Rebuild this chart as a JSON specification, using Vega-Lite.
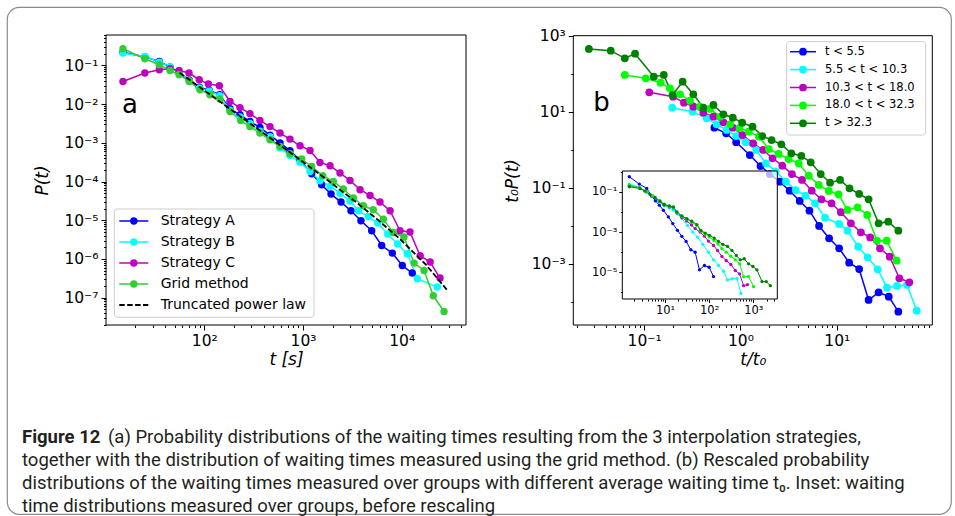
{
  "$schema": "https://vega.github.io/schema/vega-lite/v6.json",
  "width": 944,
  "height": 507,
  "autosize": {"type": "none"},
  "padding": {"left": 7, "top": 7, "right": 4, "bottom": 2},
  "background": "white",
  "config": {
    "view": {"stroke": "#8c8c8c", "strokeWidth": 1.2, "cornerRadius": 12},
    "font": "DejaVu Sans",
    "axis": {"grid": false}
  },
  "datasets": {
    "A": [
      {"series": "Strategy A", "t": 15, "P": 0.219}, {"series": "Strategy A", "t": 25, "P": 0.166}, {"series": "Strategy A", "t": 35, "P": 0.126}, {"series": "Strategy A", "t": 45, "P": 0.0912}, {"series": "Strategy A", "t": 55.5, "P": 0.0646}, {"series": "Strategy A", "t": 70.5, "P": 0.0417}, {"series": "Strategy A", "t": 89.1, "P": 0.0275}, {"series": "Strategy A", "t": 112, "P": 0.0229}, {"series": "Strategy A", "t": 143, "P": 0.0174}, {"series": "Strategy A", "t": 182, "P": 0.00759}, {"series": "Strategy A", "t": 230, "P": 0.00537}, {"series": "Strategy A", "t": 290, "P": 0.00355}, {"series": "Strategy A", "t": 366, "P": 0.00251}, {"series": "Strategy A", "t": 463, "P": 0.00158}, {"series": "Strategy A", "t": 585, "P": 0.001}, {"series": "Strategy A", "t": 738, "P": 0.000631}, {"series": "Strategy A", "t": 933, "P": 0.000355}, {"series": "Strategy A", "t": 1225, "P": 0.000159}, {"series": "Strategy A", "t": 1545, "P": 8.26e-5}, {"series": "Strategy A", "t": 1923, "P": 4.75e-5}, {"series": "Strategy A", "t": 2427, "P": 2.95e-5}, {"series": "Strategy A", "t": 3062, "P": 1.76e-5}, {"series": "Strategy A", "t": 3864, "P": 9.7e-6}, {"series": "Strategy A", "t": 4966, "P": 5.36e-6}, {"series": "Strategy A", "t": 6266, "P": 2.23e-6}, {"series": "Strategy A", "t": 8035, "P": 1.42e-6}, {"series": "Strategy A", "t": 10140, "P": 6.79e-7}, {"series": "Strategy A", "t": 12790, "P": 4.33e-7},
      {"series": "Strategy B", "t": 15, "P": 0.209}, {"series": "Strategy B", "t": 25, "P": 0.171}, {"series": "Strategy B", "t": 35, "P": 0.122}, {"series": "Strategy B", "t": 45, "P": 0.0933}, {"series": "Strategy B", "t": 55.5, "P": 0.0646}, {"series": "Strategy B", "t": 70.5, "P": 0.0398}, {"series": "Strategy B", "t": 89.1, "P": 0.0263}, {"series": "Strategy B", "t": 112, "P": 0.0219}, {"series": "Strategy B", "t": 143, "P": 0.0166}, {"series": "Strategy B", "t": 182, "P": 0.00692}, {"series": "Strategy B", "t": 230, "P": 0.00468}, {"series": "Strategy B", "t": 290, "P": 0.00316}, {"series": "Strategy B", "t": 366, "P": 0.002}, {"series": "Strategy B", "t": 463, "P": 0.00145}, {"series": "Strategy B", "t": 585, "P": 0.000741}, {"series": "Strategy B", "t": 738, "P": 0.000468}, {"series": "Strategy B", "t": 933, "P": 0.000316}, {"series": "Strategy B", "t": 1178, "P": 0.000182}, {"series": "Strategy B", "t": 1486, "P": 0.000105}, {"series": "Strategy B", "t": 1879, "P": 7.59e-5}, {"series": "Strategy B", "t": 2371, "P": 5.01e-5}, {"series": "Strategy B", "t": 2992, "P": 3.16e-5}, {"series": "Strategy B", "t": 3639, "P": 1.76e-5}, {"series": "Strategy B", "t": 4592, "P": 1.25e-5}, {"series": "Strategy B", "t": 5715, "P": 8.47e-6}, {"series": "Strategy B", "t": 7211, "P": 4.4e-6}, {"series": "Strategy B", "t": 9099, "P": 2.43e-6}, {"series": "Strategy B", "t": 11400, "P": 1.36e-6}, {"series": "Strategy B", "t": 14390, "P": 3.08e-7}, {"series": "Strategy B", "t": 22960, "P": 1.88e-7},
      {"series": "Strategy C", "t": 15, "P": 0.0386}, {"series": "Strategy C", "t": 25, "P": 0.0637}, {"series": "Strategy C", "t": 35, "P": 0.0774}, {"series": "Strategy C", "t": 45, "P": 0.0822}, {"series": "Strategy C", "t": 55.5, "P": 0.0743}, {"series": "Strategy C", "t": 70, "P": 0.0637}, {"series": "Strategy C", "t": 88.9, "P": 0.0427}, {"series": "Strategy C", "t": 110, "P": 0.033}, {"series": "Strategy C", "t": 142, "P": 0.0299}, {"series": "Strategy C", "t": 182, "P": 0.01175}, {"series": "Strategy C", "t": 230, "P": 0.00813}, {"series": "Strategy C", "t": 290, "P": 0.00569}, {"series": "Strategy C", "t": 366, "P": 0.0038}, {"series": "Strategy C", "t": 463, "P": 0.00263}, {"series": "Strategy C", "t": 585, "P": 0.00179}, {"series": "Strategy C", "t": 738, "P": 0.00125}, {"series": "Strategy C", "t": 933, "P": 0.000841}, {"series": "Strategy C", "t": 1178, "P": 0.000637}, {"series": "Strategy C", "t": 1486, "P": 0.000312}, {"series": "Strategy C", "t": 1879, "P": 0.000256}, {"series": "Strategy C", "t": 2371, "P": 0.000166}, {"series": "Strategy C", "t": 2992, "P": 0.000107}, {"series": "Strategy C", "t": 3784, "P": 6.14e-5}, {"series": "Strategy C", "t": 4775, "P": 4.38e-5}, {"series": "Strategy C", "t": 6026, "P": 2.95e-5}, {"series": "Strategy C", "t": 7621, "P": 1.76e-5}, {"series": "Strategy C", "t": 9616, "P": 5.36e-6}, {"series": "Strategy C", "t": 12130, "P": 4.96e-6}, {"series": "Strategy C", "t": 15380, "P": 1.21e-6}, {"series": "Strategy C", "t": 19410, "P": 8.32e-7}, {"series": "Strategy C", "t": 24430, "P": 3.21e-7},
      {"series": "Grid method", "t": 15, "P": 0.27}, {"series": "Grid method", "t": 25, "P": 0.149}, {"series": "Grid method", "t": 35, "P": 0.104}, {"series": "Grid method", "t": 45, "P": 0.0743}, {"series": "Grid method", "t": 55.5, "P": 0.0575}, {"series": "Grid method", "t": 70.5, "P": 0.0386}, {"series": "Grid method", "t": 90.4, "P": 0.0236}, {"series": "Grid method", "t": 114, "P": 0.0175}, {"series": "Grid method", "t": 144, "P": 0.01355}, {"series": "Grid method", "t": 182, "P": 0.00647}, {"series": "Grid method", "t": 234, "P": 0.00379}, {"series": "Grid method", "t": 290, "P": 0.00265}, {"series": "Grid method", "t": 366, "P": 0.00179}, {"series": "Grid method", "t": 463, "P": 0.0012}, {"series": "Grid method", "t": 585, "P": 0.000807}, {"series": "Grid method", "t": 738, "P": 0.000522}, {"series": "Grid method", "t": 971, "P": 0.000381}, {"series": "Grid method", "t": 1225, "P": 0.000245}, {"series": "Grid method", "t": 1585, "P": 0.000141}, {"series": "Grid method", "t": 2028, "P": 0.000101}, {"series": "Grid method", "t": 2559, "P": 6.4e-5}, {"series": "Grid method", "t": 3236, "P": 3.75e-5}, {"series": "Grid method", "t": 4083, "P": 2.37e-5}, {"series": "Grid method", "t": 5152, "P": 1.87e-5}, {"series": "Grid method", "t": 6516, "P": 1.07e-5}, {"series": "Grid method", "t": 8222, "P": 4.84e-6}, {"series": "Grid method", "t": 10540, "P": 3.68e-6}, {"series": "Grid method", "t": 13340, "P": 7.83e-7}, {"series": "Grid method", "t": 16830, "P": 5.05e-7}, {"series": "Grid method", "t": 20890, "P": 1.12e-7}, {"series": "Grid method", "t": 26850, "P": 4.4e-8}
    ],
    "fit": [
      {"t": 56.2, "P": 0.0647}, {"t": 100, "P": 0.0226}, {"t": 177.8, "P": 0.00785}, {"t": 316.2, "P": 0.00273}, {"t": 562.3, "P": 0.000942}, {"t": 1000, "P": 0.000321}, {"t": 1778, "P": 0.000108}, {"t": 3162, "P": 3.5e-5}, {"t": 5623, "P": 1.07e-5}, {"t": 10000, "P": 2.98e-6}, {"t": 17783, "P": 6.9e-7}, {"t": 29512, "P": 1.47e-7}
    ],
    "B": [
      {"group": "t < 5.5", "x": 0.536, "y": 3.86}, {"group": "t < 5.5", "x": 0.71, "y": 2.75}, {"group": "t < 5.5", "x": 0.902, "y": 1.6}, {"group": "t < 5.5", "x": 1.25, "y": 0.738}, {"group": "t < 5.5", "x": 1.614, "y": 0.379}, {"group": "t < 5.5", "x": 2.018, "y": 0.233}, {"group": "t < 5.5", "x": 2.547, "y": 0.147}, {"group": "t < 5.5", "x": 3.236, "y": 0.0849}, {"group": "t < 5.5", "x": 4.121, "y": 0.0455}, {"group": "t < 5.5", "x": 5.2, "y": 0.0253}, {"group": "t < 5.5", "x": 6.546, "y": 0.01}, {"group": "t < 5.5", "x": 8.318, "y": 0.00474}, {"group": "t < 5.5", "x": 10.57, "y": 0.00259}, {"group": "t < 5.5", "x": 13.43, "y": 0.00108}, {"group": "t < 5.5", "x": 17.06, "y": 0.000738}, {"group": "t < 5.5", "x": 21.38, "y": 0.000113}, {"group": "t < 5.5", "x": 27.16, "y": 0.00018}, {"group": "t < 5.5", "x": 34.59, "y": 0.000138}, {"group": "t < 5.5", "x": 43.55, "y": 5.56e-5},
      {"group": "5.5 < t < 10.3", "x": 0.196, "y": 13.0}, {"group": "5.5 < t < 10.3", "x": 0.318, "y": 10.2}, {"group": "5.5 < t < 10.3", "x": 0.446, "y": 6.82}, {"group": "5.5 < t < 10.3", "x": 0.566, "y": 4.74}, {"group": "5.5 < t < 10.3", "x": 0.719, "y": 3.36}, {"group": "5.5 < t < 10.3", "x": 0.902, "y": 2.33}, {"group": "5.5 < t < 10.3", "x": 1.127, "y": 1.6}, {"group": "5.5 < t < 10.3", "x": 1.455, "y": 1.0}, {"group": "5.5 < t < 10.3", "x": 1.837, "y": 0.447}, {"group": "5.5 < t < 10.3", "x": 2.317, "y": 0.275}, {"group": "5.5 < t < 10.3", "x": 2.965, "y": 0.147}, {"group": "5.5 < t < 10.3", "x": 3.741, "y": 0.0885}, {"group": "5.5 < t < 10.3", "x": 4.721, "y": 0.0627}, {"group": "5.5 < t < 10.3", "x": 5.943, "y": 0.0395}, {"group": "5.5 < t < 10.3", "x": 7.551, "y": 0.0165}, {"group": "5.5 < t < 10.3", "x": 10.57, "y": 0.0113}, {"group": "5.5 < t < 10.3", "x": 12.91, "y": 0.00752}, {"group": "5.5 < t < 10.3", "x": 16.67, "y": 0.00285}, {"group": "5.5 < t < 10.3", "x": 20.89, "y": 0.0015}, {"group": "5.5 < t < 10.3", "x": 26.55, "y": 0.000726}, {"group": "5.5 < t < 10.3", "x": 33.19, "y": 0.000238}, {"group": "5.5 < t < 10.3", "x": 42.17, "y": 0.000264}, {"group": "5.5 < t < 10.3", "x": 53.58, "y": 0.00028}, {"group": "5.5 < t < 10.3", "x": 67.61, "y": 5.9e-5},
      {"group": "10.3 < t < 18.0", "x": 0.113, "y": 33.0}, {"group": "10.3 < t < 18.0", "x": 0.2, "y": 25.3}, {"group": "10.3 < t < 18.0", "x": 0.259, "y": 17.6}, {"group": "10.3 < t < 18.0", "x": 0.324, "y": 13.8}, {"group": "10.3 < t < 18.0", "x": 0.412, "y": 9.59}, {"group": "10.3 < t < 18.0", "x": 0.524, "y": 7.52}, {"group": "10.3 < t < 18.0", "x": 0.665, "y": 5.36}, {"group": "10.3 < t < 18.0", "x": 0.832, "y": 3.86}, {"group": "10.3 < t < 18.0", "x": 1.05, "y": 2.48}, {"group": "10.3 < t < 18.0", "x": 1.355, "y": 1.5}, {"group": "10.3 < t < 18.0", "x": 1.722, "y": 1.0}, {"group": "10.3 < t < 18.0", "x": 2.153, "y": 0.605}, {"group": "10.3 < t < 18.0", "x": 2.716, "y": 0.386}, {"group": "10.3 < t < 18.0", "x": 3.42, "y": 0.233}, {"group": "10.3 < t < 18.0", "x": 4.355, "y": 0.163}, {"group": "10.3 < t < 18.0", "x": 5.495, "y": 0.0849}, {"group": "10.3 < t < 18.0", "x": 6.934, "y": 0.0505}, {"group": "10.3 < t < 18.0", "x": 8.81, "y": 0.0395}, {"group": "10.3 < t < 18.0", "x": 11.02, "y": 0.023}, {"group": "10.3 < t < 18.0", "x": 14.0, "y": 0.01178}, {"group": "10.3 < t < 18.0", "x": 17.78, "y": 0.00682}, {"group": "10.3 < t < 18.0", "x": 22.23, "y": 0.00501}, {"group": "10.3 < t < 18.0", "x": 28.05, "y": 0.00259}, {"group": "10.3 < t < 18.0", "x": 35.4, "y": 0.00156}, {"group": "10.3 < t < 18.0", "x": 44.57, "y": 0.000421}, {"group": "10.3 < t < 18.0", "x": 56.62, "y": 0.00033},
      {"group": "18.0 < t < 32.3", "x": 0.063, "y": 94.2}, {"group": "18.0 < t < 32.3", "x": 0.104, "y": 77.1}, {"group": "18.0 < t < 32.3", "x": 0.148, "y": 59.0}, {"group": "18.0 < t < 32.3", "x": 0.185, "y": 42.1}, {"group": "18.0 < t < 32.3", "x": 0.236, "y": 29.2}, {"group": "18.0 < t < 32.3", "x": 0.299, "y": 19.8}, {"group": "18.0 < t < 32.3", "x": 0.38, "y": 13.8}, {"group": "18.0 < t < 32.3", "x": 0.483, "y": 12.0}, {"group": "18.0 < t < 32.3", "x": 0.615, "y": 7.52}, {"group": "18.0 < t < 32.3", "x": 0.782, "y": 4.74}, {"group": "18.0 < t < 32.3", "x": 0.977, "y": 3.8}, {"group": "18.0 < t < 32.3", "x": 1.222, "y": 3.03}, {"group": "18.0 < t < 32.3", "x": 1.552, "y": 2.24}, {"group": "18.0 < t < 32.3", "x": 1.972, "y": 1.06}, {"group": "18.0 < t < 32.3", "x": 2.489, "y": 0.785}, {"group": "18.0 < t < 32.3", "x": 3.162, "y": 0.579}, {"group": "18.0 < t < 32.3", "x": 4.018, "y": 0.447}, {"group": "18.0 < t < 32.3", "x": 5.105, "y": 0.211}, {"group": "18.0 < t < 32.3", "x": 6.501, "y": 0.12}, {"group": "18.0 < t < 32.3", "x": 8.26, "y": 0.0834}, {"group": "18.0 < t < 32.3", "x": 10.42, "y": 0.0682}, {"group": "18.0 < t < 32.3", "x": 12.91, "y": 0.0264}, {"group": "18.0 < t < 32.3", "x": 16.41, "y": 0.031}, {"group": "18.0 < t < 32.3", "x": 20.7, "y": 0.0195}, {"group": "18.0 < t < 32.3", "x": 26.12, "y": 0.0041}, {"group": "18.0 < t < 32.3", "x": 32.96, "y": 0.0041}, {"group": "18.0 < t < 32.3", "x": 41.88, "y": 0.00122},
      {"group": "t > 32.3", "x": 0.0267, "y": 455}, {"group": "t > 32.3", "x": 0.045, "y": 410}, {"group": "t > 32.3", "x": 0.063, "y": 259}, {"group": "t > 32.3", "x": 0.0805, "y": 342}, {"group": "t > 32.3", "x": 0.126, "y": 84.9}, {"group": "t > 32.3", "x": 0.16, "y": 94.2}, {"group": "t > 32.3", "x": 0.197, "y": 28.0}, {"group": "t > 32.3", "x": 0.251, "y": 62.7}, {"group": "t > 32.3", "x": 0.324, "y": 29.2}, {"group": "t > 32.3", "x": 0.412, "y": 13.0}, {"group": "t > 32.3", "x": 0.524, "y": 15.3}, {"group": "t > 32.3", "x": 0.665, "y": 8.69}, {"group": "t > 32.3", "x": 0.832, "y": 7.08}, {"group": "t > 32.3", "x": 1.042, "y": 5.22}, {"group": "t > 32.3", "x": 1.334, "y": 4.1}, {"group": "t > 32.3", "x": 1.683, "y": 2.33}, {"group": "t > 32.3", "x": 2.104, "y": 1.83}, {"group": "t > 32.3", "x": 2.655, "y": 1.41}, {"group": "t > 32.3", "x": 3.373, "y": 0.818}, {"group": "t > 32.3", "x": 4.285, "y": 0.695}, {"group": "t > 32.3", "x": 5.358, "y": 0.474}, {"group": "t > 32.3", "x": 6.808, "y": 0.233}, {"group": "t > 32.3", "x": 8.511, "y": 0.138}, {"group": "t > 32.3", "x": 10.81, "y": 0.163}, {"group": "t > 32.3", "x": 13.55, "y": 0.0982}, {"group": "t > 32.3", "x": 17.06, "y": 0.0695}, {"group": "t > 32.3", "x": 21.38, "y": 0.0505}, {"group": "t > 32.3", "x": 27.16, "y": 0.01178}, {"group": "t > 32.3", "x": 34.2, "y": 0.013}, {"group": "t > 32.3", "x": 43.55, "y": 0.00752}
    ],
    "inset": [
      {"group": "t < 5.5", "t": 1.545, "P": 0.562}, {"group": "t < 5.5", "t": 2.606, "P": 0.243}, {"group": "t < 5.5", "t": 3.837, "P": 0.148}, {"group": "t < 5.5", "t": 4.989, "P": 0.061}, {"group": "t < 5.5", "t": 6.03, "P": 0.0355}, {"group": "t < 5.5", "t": 7.413, "P": 0.0216}, {"group": "t < 5.5", "t": 9.141, "P": 0.01216}, {"group": "t < 5.5", "t": 11.89, "P": 0.00562}, {"group": "t < 5.5", "t": 14.96, "P": 0.00263}, {"group": "t < 5.5", "t": 19.05, "P": 0.00122}, {"group": "t < 5.5", "t": 23.99, "P": 0.00061}, {"group": "t < 5.5", "t": 29.99, "P": 0.000343}, {"group": "t < 5.5", "t": 38.37, "P": 0.000132}, {"group": "t < 5.5", "t": 48.08, "P": 0.0001}, {"group": "t < 5.5", "t": 60.26, "P": 1.32e-5}, {"group": "t < 5.5", "t": 78.16, "P": 2.16e-5}, {"group": "t < 5.5", "t": 100, "P": 1.78e-5}, {"group": "t < 5.5", "t": 125.3, "P": 6.1e-6},
      {"group": "5.5 < t < 10.3", "t": 1.545, "P": 0.243}, {"group": "5.5 < t < 10.3", "t": 2.606, "P": 0.166}, {"group": "5.5 < t < 10.3", "t": 3.837, "P": 0.0955}, {"group": "5.5 < t < 10.3", "t": 5.248, "P": 0.0562}, {"group": "5.5 < t < 10.3", "t": 7.413, "P": 0.0302}, {"group": "5.5 < t < 10.3", "t": 9.55, "P": 0.02}, {"group": "5.5 < t < 10.3", "t": 12.59, "P": 0.0158}, {"group": "5.5 < t < 10.3", "t": 15.49, "P": 0.012}, {"group": "5.5 < t < 10.3", "t": 19.05, "P": 0.00794}, {"group": "5.5 < t < 10.3", "t": 23.99, "P": 0.00468}, {"group": "5.5 < t < 10.3", "t": 32.14, "P": 0.00216}, {"group": "5.5 < t < 10.3", "t": 42.66, "P": 0.001}, {"group": "5.5 < t < 10.3", "t": 54.2, "P": 0.000562}, {"group": "5.5 < t < 10.3", "t": 71.94, "P": 0.000243}, {"group": "5.5 < t < 10.3", "t": 96.38, "P": 0.0001}, {"group": "5.5 < t < 10.3", "t": 125.3, "P": 4.17e-5}, {"group": "5.5 < t < 10.3", "t": 162.6, "P": 2.16e-5}, {"group": "5.5 < t < 10.3", "t": 211.3, "P": 1.12e-5}, {"group": "5.5 < t < 10.3", "t": 260.6, "P": 4.17e-6}, {"group": "5.5 < t < 10.3", "t": 328.1, "P": 4.68e-6}, {"group": "5.5 < t < 10.3", "t": 426.6, "P": 5.01e-6}, {"group": "5.5 < t < 10.3", "t": 524.8, "P": 8.91e-7},
      {"group": "10.3 < t < 18.0", "t": 1.545, "P": 0.209}, {"group": "10.3 < t < 18.0", "t": 2.606, "P": 0.158}, {"group": "10.3 < t < 18.0", "t": 3.837, "P": 0.1}, {"group": "10.3 < t < 18.0", "t": 5.248, "P": 0.0603}, {"group": "10.3 < t < 18.0", "t": 7.413, "P": 0.0339}, {"group": "10.3 < t < 18.0", "t": 9.55, "P": 0.0224}, {"group": "10.3 < t < 18.0", "t": 12.59, "P": 0.0178}, {"group": "10.3 < t < 18.0", "t": 15.49, "P": 0.0158}, {"group": "10.3 < t < 18.0", "t": 18.62, "P": 0.00891}, {"group": "10.3 < t < 18.0", "t": 23.99, "P": 0.00537}, {"group": "10.3 < t < 18.0", "t": 30.9, "P": 0.00355}, {"group": "10.3 < t < 18.0", "t": 39.81, "P": 0.00224}, {"group": "10.3 < t < 18.0", "t": 48.08, "P": 0.00148}, {"group": "10.3 < t < 18.0", "t": 62.37, "P": 0.001}, {"group": "10.3 < t < 18.0", "t": 77.62, "P": 0.000631}, {"group": "10.3 < t < 18.0", "t": 96.38, "P": 0.000355}, {"group": "10.3 < t < 18.0", "t": 125.3, "P": 0.000216}, {"group": "10.3 < t < 18.0", "t": 154.5, "P": 0.000122}, {"group": "10.3 < t < 18.0", "t": 194.5, "P": 6.1e-5}, {"group": "10.3 < t < 18.0", "t": 243.2, "P": 3.85e-5}, {"group": "10.3 < t < 18.0", "t": 311.2, "P": 2.43e-5}, {"group": "10.3 < t < 18.0", "t": 390, "P": 1.22e-5}, {"group": "10.3 < t < 18.0", "t": 488.7, "P": 8.32e-6}, {"group": "10.3 < t < 18.0", "t": 602.6, "P": 2.16e-6}, {"group": "10.3 < t < 18.0", "t": 741.3, "P": 2.43e-6},
      {"group": "18.0 < t < 32.3", "t": 1.545, "P": 0.209}, {"group": "18.0 < t < 32.3", "t": 2.606, "P": 0.158}, {"group": "18.0 < t < 32.3", "t": 3.837, "P": 0.105}, {"group": "18.0 < t < 32.3", "t": 5.248, "P": 0.0631}, {"group": "18.0 < t < 32.3", "t": 7.413, "P": 0.0355}, {"group": "18.0 < t < 32.3", "t": 9.55, "P": 0.024}, {"group": "18.0 < t < 32.3", "t": 12.59, "P": 0.0191}, {"group": "18.0 < t < 32.3", "t": 15.49, "P": 0.0166}, {"group": "18.0 < t < 32.3", "t": 18.62, "P": 0.00955}, {"group": "18.0 < t < 32.3", "t": 23.99, "P": 0.00603}, {"group": "18.0 < t < 32.3", "t": 30.9, "P": 0.00437}, {"group": "18.0 < t < 32.3", "t": 39.81, "P": 0.00316}, {"group": "18.0 < t < 32.3", "t": 52.48, "P": 0.00209}, {"group": "18.0 < t < 32.3", "t": 64.57, "P": 0.00112}, {"group": "18.0 < t < 32.3", "t": 81.28, "P": 0.000794}, {"group": "18.0 < t < 32.3", "t": 100, "P": 0.000562}, {"group": "18.0 < t < 32.3", "t": 128.8, "P": 0.00038}, {"group": "18.0 < t < 32.3", "t": 158.5, "P": 0.000251}, {"group": "18.0 < t < 32.3", "t": 194.5, "P": 0.000148}, {"group": "18.0 < t < 32.3", "t": 243.2, "P": 0.0001}, {"group": "18.0 < t < 32.3", "t": 309, "P": 6.31e-5}, {"group": "18.0 < t < 32.3", "t": 390, "P": 4.17e-5}, {"group": "18.0 < t < 32.3", "t": 488.7, "P": 2.63e-5}, {"group": "18.0 < t < 32.3", "t": 602.6, "P": 6.1e-6}, {"group": "18.0 < t < 32.3", "t": 781.6, "P": 6.1e-6}, {"group": "18.0 < t < 32.3", "t": 1016, "P": 1.93e-6},
      {"group": "t > 32.3", "t": 1.545, "P": 0.178}, {"group": "t > 32.3", "t": 2.704, "P": 0.148}, {"group": "t > 32.3", "t": 3.508, "P": 0.108}, {"group": "t > 32.3", "t": 4.56, "P": 0.0741}, {"group": "t > 32.3", "t": 5.929, "P": 0.0525}, {"group": "t > 32.3", "t": 7.691, "P": 0.0343}, {"group": "t > 32.3", "t": 9.484, "P": 0.0234}, {"group": "t > 32.3", "t": 12.53, "P": 0.02}, {"group": "t > 32.3", "t": 15.45, "P": 0.0178}, {"group": "t > 32.3", "t": 18.45, "P": 0.01}, {"group": "t > 32.3", "t": 23.99, "P": 0.00631}, {"group": "t > 32.3", "t": 31.12, "P": 0.00468}, {"group": "t > 32.3", "t": 40.46, "P": 0.00343}, {"group": "t > 32.3", "t": 52.48, "P": 0.00234}, {"group": "t > 32.3", "t": 64.71, "P": 0.00122}, {"group": "t > 32.3", "t": 81.1, "P": 0.000891}, {"group": "t > 32.3", "t": 101.6, "P": 0.000684}, {"group": "t > 32.3", "t": 130, "P": 0.000501}, {"group": "t > 32.3", "t": 162.6, "P": 0.000343}, {"group": "t > 32.3", "t": 204.6, "P": 0.000243}, {"group": "t > 32.3", "t": 260.6, "P": 0.000193}, {"group": "t > 32.3", "t": 328.1, "P": 0.000122}, {"group": "t > 32.3", "t": 411.1, "P": 6.84e-5}, {"group": "t > 32.3", "t": 507, "P": 4.17e-5}, {"group": "t > 32.3", "t": 623.7, "P": 4.68e-5}, {"group": "t > 32.3", "t": 781.6, "P": 2.63e-5}, {"group": "t > 32.3", "t": 984, "P": 1.93e-5}, {"group": "t > 32.3", "t": 1213, "P": 1.32e-5}, {"group": "t > 32.3", "t": 1578, "P": 3.43e-6}, {"group": "t > 32.3", "t": 1972, "P": 3.43e-6}, {"group": "t > 32.3", "t": 2432, "P": 2.16e-6}
    ],
    "legA": [
      {"label": "Strategy A", "k": 0}, {"label": "Strategy B", "k": 1}, {"label": "Strategy C", "k": 2}, {"label": "Grid method", "k": 3}, {"label": "Truncated power law", "k": 4}
    ],
    "legB": [
      {"label": "t < 5.5", "k": 0}, {"label": "5.5 < t < 10.3", "k": 1}, {"label": "10.3 < t < 18.0", "k": 2}, {"label": "18.0 < t < 32.3", "k": 3}, {"label": "t > 32.3", "k": 4}
    ],
    "caption": [
      {"line": 1, "text": "(a) Probability distributions of the waiting times resulting from the 3 interpolation strategies,"},
      {"line": 2, "text": "together with the distribution of waiting times measured using the grid method. (b) Rescaled probability"},
      {"line": 3, "text": "distributions of the waiting times measured over groups with different average waiting time t₀. Inset: waiting"},
      {"line": 4, "text": "time distributions measured over groups, before rescaling"}
    ]
  },
  "layer": [
    {
      "layer": [
        {
          "layer": [
            {
              "data": {"values": [{}]},
              "mark": {"type": "rect", "fillOpacity": 0, "stroke": "black", "strokeWidth": 1},
              "encoding": {
                "x": {"datum": 10.1, "type": "quantitative", "scale": {"type": "log", "domain": [10.1, 44800], "range": [99, 459], "nice": false}, "axis": null},
                "x2": {"datum": 44800},
                "y": {"datum": 1.97e-8, "type": "quantitative", "scale": {"type": "log", "domain": [1.97e-8, 0.611], "range": [318, 28], "nice": false}, "axis": null},
                "y2": {"datum": 0.611}
              }
            },
            {
              "data": {"name": "A"},
              "mark": {"type": "line", "strokeWidth": 1.5},
              "encoding": {
                "x": {"field": "t", "type": "quantitative", "scale": {"type": "log", "domain": [10.1, 44800], "range": [99, 459], "nice": false},
                  "axis": {"orient": "bottom", "offset": -189, "domain": false, "grid": false, "ticks": true, "labels": true,
                    "values": [100, 1000, 10000],
                    "labelExpr": "'10' + (round(log(datum.value)/LN10) < 0 ? '⁻' : '') + substring('⁰¹²³⁴⁵⁶⁷⁸⁹', abs(round(log(datum.value)/LN10)), abs(round(log(datum.value)/LN10)) + 1)",
                    "labelFlush": false, "labelOverlap": false, "tickColor": "black", "tickWidth": 1, "tickSize": 5,
                    "labelColor": "black", "labelFont": "DejaVu Sans", "labelFontSize": 15.5, "labelPadding": 3,
                    "title": "t [s]", "titleFont": "DejaVu Sans", "titleFontSize": 17, "titleFontWeight": "normal", "titleFontStyle": "italic", "titleColor": "black", "titlePadding": 3}},
                "y": {"field": "P", "type": "quantitative", "scale": {"type": "log", "domain": [1.97e-8, 0.611], "range": [318, 28], "nice": false},
                  "axis": {"orient": "left", "offset": -99, "domain": false, "grid": false, "ticks": true, "labels": true,
                    "values": [1e-7, 1e-6, 1e-5, 0.0001, 0.001, 0.01, 0.1],
                    "labelExpr": "'10' + (round(log(datum.value)/LN10) < 0 ? '⁻' : '') + substring('⁰¹²³⁴⁵⁶⁷⁸⁹', abs(round(log(datum.value)/LN10)), abs(round(log(datum.value)/LN10)) + 1)",
                    "labelFlush": false, "labelOverlap": false, "tickColor": "black", "tickWidth": 1, "tickSize": 5,
                    "labelColor": "black", "labelFont": "DejaVu Sans", "labelFontSize": 15.5, "labelPadding": 3,
                    "title": "P(t)", "titleFont": "DejaVu Sans", "titleFontSize": 17, "titleFontWeight": "normal", "titleFontStyle": "italic", "titleColor": "black", "titlePadding": 12}},
                "color": {"field": "series", "type": "nominal", "scale": {"domain": ["Strategy A", "Strategy B", "Strategy C", "Grid method", "Truncated power law"], "range": ["#0000ff", "#00ffff", "#bf00bf", "#32cd32", "#000000"]}, "legend": null}
              }
            },
            {
              "data": {"name": "A"},
              "mark": {"type": "point", "filled": true, "opacity": 1, "size": 55},
              "encoding": {
                "x": {"field": "t", "type": "quantitative", "scale": {"type": "log", "domain": [10.1, 44800], "range": [99, 459], "nice": false},
                  "axis": {"orient": "bottom", "offset": -189, "domain": false, "grid": false, "labels": false, "title": null, "tickColor": "black", "tickWidth": 1, "tickSize": 2.5,
                    "values": [20,30,40,50,60,70,80,90,200,300,400,500,600,700,800,900,2000,3000,4000,5000,6000,7000,8000,9000,20000,30000,40000]}},
                "y": {"field": "P", "type": "quantitative", "scale": {"type": "log", "domain": [1.97e-8, 0.611], "range": [318, 28], "nice": false},
                  "axis": {"orient": "left", "offset": -99, "domain": false, "grid": false, "labels": false, "title": null, "tickColor": "black", "tickWidth": 1, "tickSize": 2.5,
                    "values": [2e-8,3e-8,4e-8,5e-8,6e-8,7e-8,8e-8,9e-8,2e-7,3e-7,4e-7,5e-7,6e-7,7e-7,8e-7,9e-7,2e-6,3e-6,4e-6,5e-6,6e-6,7e-6,8e-6,9e-6,2e-5,3e-5,4e-5,5e-5,6e-5,7e-5,8e-5,9e-5,0.0002,0.0003,0.0004,0.0005,0.0006,0.0007,0.0008,0.0009,0.002,0.003,0.004,0.005,0.006,0.007,0.008,0.009,0.02,0.03,0.04,0.05,0.06,0.07,0.08,0.09,0.2,0.3,0.4,0.5,0.6]}},
                "color": {"field": "series", "type": "nominal", "scale": {"domain": ["Strategy A", "Strategy B", "Strategy C", "Grid method", "Truncated power law"], "range": ["#0000ff", "#00ffff", "#bf00bf", "#32cd32", "#000000"]}, "legend": null}
              }
            },
            {
              "data": {"name": "fit"},
              "mark": {"type": "line", "color": "black", "strokeWidth": 1.8, "strokeDash": [5.5, 2.4]},
              "encoding": {
                "x": {"field": "t", "type": "quantitative", "scale": {"type": "log", "domain": [10.1, 44800], "range": [99, 459], "nice": false}, "axis": null},
                "y": {"field": "P", "type": "quantitative", "scale": {"type": "log", "domain": [1.97e-8, 0.611], "range": [318, 28], "nice": false}, "axis": null}
              }
            },
            {
              "data": {"values": [{"label": "a"}]},
              "mark": {"type": "text", "font": "DejaVu Sans", "fontSize": 26, "align": "center", "baseline": "middle", "color": "black"},
              "encoding": {
                "x": {"datum": 17.7, "type": "quantitative", "scale": {"type": "log", "domain": [10.1, 44800], "range": [99, 459], "nice": false}, "axis": null},
                "y": {"datum": 0.00964, "type": "quantitative", "scale": {"type": "log", "domain": [1.97e-8, 0.611], "range": [318, 28], "nice": false}, "axis": null},
                "text": {"field": "label"}
              }
            }
          ],
          "resolve": {"axis": {"x": "independent", "y": "independent"}}
        },
        {
          "data": {"name": "legA"},
          "layer": [
            {
              "data": {"values": [{}]},
              "mark": {"type": "rect", "fill": "white", "fillOpacity": 0.8, "stroke": "#cccccc", "strokeWidth": 1, "cornerRadius": 3},
              "encoding": {
                "x": {"datum": -0.172, "type": "quantitative", "scale": {"type": "linear", "domain": [0, 1], "range": [112.3, 141.3], "zero": false, "nice": false}, "axis": null},
                "x2": {"datum": 6.714},
                "y": {"datum": -0.571, "type": "quantitative", "scale": {"type": "linear", "domain": [0, 4], "range": [214, 298], "zero": false, "nice": false}, "axis": null},
                "y2": {"datum": 4.586}
              }
            },
            {
              "transform": [{"filter": "datum.k < 4"}],
              "mark": {"type": "rule", "strokeWidth": 1.5},
              "encoding": {
                "x": {"datum": 0, "type": "quantitative", "scale": {"type": "linear", "domain": [0, 1], "range": [112.3, 141.3], "zero": false, "nice": false}, "axis": null},
                "x2": {"datum": 1},
                "y": {"field": "k", "type": "quantitative", "scale": {"type": "linear", "domain": [0, 4], "range": [214, 298], "zero": false, "nice": false}, "axis": null},
                "color": {"field": "label", "type": "nominal", "scale": {"domain": ["Strategy A", "Strategy B", "Strategy C", "Grid method", "Truncated power law"], "range": ["#0000ff", "#00ffff", "#bf00bf", "#32cd32", "#000000"]}, "legend": null}
              }
            },
            {
              "transform": [{"filter": "datum.k == 4"}],
              "mark": {"type": "rule", "strokeWidth": 1.8, "color": "black", "strokeDash": [5.5, 2.4]},
              "encoding": {
                "x": {"datum": 0, "type": "quantitative", "scale": {"type": "linear", "domain": [0, 1], "range": [112.3, 141.3], "zero": false, "nice": false}, "axis": null},
                "x2": {"datum": 1},
                "y": {"field": "k", "type": "quantitative", "scale": {"type": "linear", "domain": [0, 4], "range": [214, 298], "zero": false, "nice": false}, "axis": null}
              }
            },
            {
              "transform": [{"filter": "datum.k < 4"}],
              "mark": {"type": "point", "filled": true, "opacity": 1, "size": 55},
              "encoding": {
                "x": {"datum": 0.5, "type": "quantitative", "scale": {"type": "linear", "domain": [0, 1], "range": [112.3, 141.3], "zero": false, "nice": false}, "axis": null},
                "y": {"field": "k", "type": "quantitative", "scale": {"type": "linear", "domain": [0, 4], "range": [214, 298], "zero": false, "nice": false}, "axis": null},
                "color": {"field": "label", "type": "nominal", "scale": {"domain": ["Strategy A", "Strategy B", "Strategy C", "Grid method", "Truncated power law"], "range": ["#0000ff", "#00ffff", "#bf00bf", "#32cd32", "#000000"]}, "legend": null}
              }
            },
            {
              "mark": {"type": "text", "align": "left", "baseline": "middle", "font": "DejaVu Sans", "fontSize": 14, "color": "black"},
              "encoding": {
                "x": {"datum": 1.428, "type": "quantitative", "scale": {"type": "linear", "domain": [0, 1], "range": [112.3, 141.3], "zero": false, "nice": false}, "axis": null},
                "y": {"field": "k", "type": "quantitative", "scale": {"type": "linear", "domain": [0, 4], "range": [214, 298], "zero": false, "nice": false}, "axis": null},
                "text": {"field": "label"}
              }
            }
          ]
        }
      ],
      "resolve": {"scale": {"x": "independent", "y": "independent"}, "axis": {"x": "independent", "y": "independent"}}
    },
    {
      "layer": [
        {
          "layer": [
            {
              "data": {"values": [{}]},
              "mark": {"type": "rect", "fillOpacity": 0, "stroke": "black", "strokeWidth": 1},
              "encoding": {
                "x": {"datum": 0.0184, "type": "quantitative", "scale": {"type": "log", "domain": [0.0184, 98], "range": [566.3, 925.3], "nice": false}, "axis": null},
                "x2": {"datum": 98},
                "y": {"datum": 2.48e-5, "type": "quantitative", "scale": {"type": "log", "domain": [2.48e-5, 1018], "range": [318, 28.7], "nice": false}, "axis": null},
                "y2": {"datum": 1018}
              }
            },
            {
              "data": {"name": "B"},
              "mark": {"type": "line", "strokeWidth": 1.5},
              "encoding": {
                "x": {"field": "x", "type": "quantitative", "scale": {"type": "log", "domain": [0.0184, 98], "range": [566.3, 925.3], "nice": false},
                  "axis": {"orient": "bottom", "offset": -189, "domain": false, "grid": false, "ticks": true, "labels": true,
                    "values": [0.1, 1, 10],
                    "labelExpr": "'10' + (round(log(datum.value)/LN10) < 0 ? '⁻' : '') + substring('⁰¹²³⁴⁵⁶⁷⁸⁹', abs(round(log(datum.value)/LN10)), abs(round(log(datum.value)/LN10)) + 1)",
                    "labelFlush": false, "labelOverlap": false, "tickColor": "black", "tickWidth": 1, "tickSize": 5,
                    "labelColor": "black", "labelFont": "DejaVu Sans", "labelFontSize": 15.5, "labelPadding": 3,
                    "title": "t/t₀", "titleFont": "DejaVu Sans", "titleFontSize": 17, "titleFontWeight": "normal", "titleFontStyle": "italic", "titleColor": "black", "titlePadding": 3}},
                "y": {"field": "y", "type": "quantitative", "scale": {"type": "log", "domain": [2.48e-5, 1018], "range": [318, 28.7], "nice": false},
                  "axis": {"orient": "left", "offset": -566.3, "domain": false, "grid": false, "ticks": true, "labels": true,
                    "values": [0.001, 0.1, 10, 1000],
                    "labelExpr": "'10' + (round(log(datum.value)/LN10) < 0 ? '⁻' : '') + substring('⁰¹²³⁴⁵⁶⁷⁸⁹', abs(round(log(datum.value)/LN10)), abs(round(log(datum.value)/LN10)) + 1)",
                    "labelFlush": false, "labelOverlap": false, "tickColor": "black", "tickWidth": 1, "tickSize": 5,
                    "labelColor": "black", "labelFont": "DejaVu Sans", "labelFontSize": 15.5, "labelPadding": 3,
                    "title": "t₀P(t)", "titleFont": "DejaVu Sans", "titleFontSize": 17, "titleFontWeight": "normal", "titleFontStyle": "italic", "titleColor": "black", "titlePadding": 10}},
                "color": {"field": "group", "type": "nominal", "scale": {"domain": ["t < 5.5", "5.5 < t < 10.3", "10.3 < t < 18.0", "18.0 < t < 32.3", "t > 32.3"], "range": ["#0000ff", "#00ffff", "#bf00bf", "#00ff00", "#008000"]}, "legend": null}
              }
            },
            {
              "data": {"name": "B"},
              "mark": {"type": "point", "filled": true, "opacity": 1, "size": 60},
              "encoding": {
                "x": {"field": "x", "type": "quantitative", "scale": {"type": "log", "domain": [0.0184, 98], "range": [566.3, 925.3], "nice": false},
                  "axis": {"orient": "bottom", "offset": -189, "domain": false, "grid": false, "labels": false, "title": null, "tickColor": "black", "tickWidth": 1, "tickSize": 2.5,
                    "values": [0.02,0.03,0.04,0.05,0.06,0.07,0.08,0.09,0.2,0.3,0.4,0.5,0.6,0.7,0.8,0.9,2,3,4,5,6,7,8,9,20,30,40,50,60,70,80,90]}},
                "y": {"field": "y", "type": "quantitative", "scale": {"type": "log", "domain": [2.48e-5, 1018], "range": [318, 28.7], "nice": false},
                  "axis": {"orient": "left", "offset": -566.3, "domain": false, "grid": false, "labels": false, "title": null, "tickColor": "black", "tickWidth": 1, "tickSize": 2.5,
                    "values": [0.0001, 0.01, 1, 100]}},
                "color": {"field": "group", "type": "nominal", "scale": {"domain": ["t < 5.5", "5.5 < t < 10.3", "10.3 < t < 18.0", "18.0 < t < 32.3", "t > 32.3"], "range": ["#0000ff", "#00ffff", "#bf00bf", "#00ff00", "#008000"]}, "legend": null}
              }
            },
            {
              "data": {"values": [{"label": "b"}]},
              "mark": {"type": "text", "font": "DejaVu Sans", "fontSize": 26, "align": "center", "baseline": "middle", "color": "black"},
              "encoding": {
                "x": {"datum": 0.0362, "type": "quantitative", "scale": {"type": "log", "domain": [0.0184, 98], "range": [566.3, 925.3], "nice": false}, "axis": null},
                "y": {"datum": 16.9, "type": "quantitative", "scale": {"type": "log", "domain": [2.48e-5, 1018], "range": [318, 28.7], "nice": false}, "axis": null},
                "text": {"field": "label"}
              }
            }
          ],
          "resolve": {"axis": {"x": "independent", "y": "independent"}}
        },
        {
          "data": {"name": "legB"},
          "layer": [
            {
              "data": {"values": [{}]},
              "mark": {"type": "rect", "fill": "white", "fillOpacity": 0.8, "stroke": "#cccccc", "strokeWidth": 1, "cornerRadius": 3},
              "encoding": {
                "x": {"datum": -0.127, "type": "quantitative", "scale": {"type": "linear", "domain": [0, 1], "range": [783, 809], "zero": false, "nice": false}, "axis": null},
                "x2": {"datum": 5.219},
                "y": {"datum": -0.559, "type": "quantitative", "scale": {"type": "linear", "domain": [0, 4], "range": [44.7, 116.3], "zero": false, "nice": false}, "axis": null},
                "y2": {"datum": 4.654}
              }
            },
            {
              "mark": {"type": "rule", "strokeWidth": 1.5},
              "encoding": {
                "x": {"datum": 0, "type": "quantitative", "scale": {"type": "linear", "domain": [0, 1], "range": [783, 809], "zero": false, "nice": false}, "axis": null},
                "x2": {"datum": 1},
                "y": {"field": "k", "type": "quantitative", "scale": {"type": "linear", "domain": [0, 4], "range": [44.7, 116.3], "zero": false, "nice": false}, "axis": null},
                "color": {"field": "label", "type": "nominal", "scale": {"domain": ["t < 5.5", "5.5 < t < 10.3", "10.3 < t < 18.0", "18.0 < t < 32.3", "t > 32.3"], "range": ["#0000ff", "#00ffff", "#bf00bf", "#00ff00", "#008000"]}, "legend": null}
              }
            },
            {
              "mark": {"type": "point", "filled": true, "opacity": 1, "size": 60},
              "encoding": {
                "x": {"datum": 0.5, "type": "quantitative", "scale": {"type": "linear", "domain": [0, 1], "range": [783, 809], "zero": false, "nice": false}, "axis": null},
                "y": {"field": "k", "type": "quantitative", "scale": {"type": "linear", "domain": [0, 4], "range": [44.7, 116.3], "zero": false, "nice": false}, "axis": null},
                "color": {"field": "label", "type": "nominal", "scale": {"domain": ["t < 5.5", "5.5 < t < 10.3", "10.3 < t < 18.0", "18.0 < t < 32.3", "t > 32.3"], "range": ["#0000ff", "#00ffff", "#bf00bf", "#00ff00", "#008000"]}, "legend": null}
              }
            },
            {
              "mark": {"type": "text", "align": "left", "baseline": "middle", "font": "DejaVu Sans", "fontSize": 11.5, "color": "black"},
              "encoding": {
                "x": {"datum": 1.346, "type": "quantitative", "scale": {"type": "linear", "domain": [0, 1], "range": [783, 809], "zero": false, "nice": false}, "axis": null},
                "y": {"field": "k", "type": "quantitative", "scale": {"type": "linear", "domain": [0, 4], "range": [44.7, 116.3], "zero": false, "nice": false}, "axis": null},
                "text": {"field": "label"}
              }
            }
          ]
        },
        {
          "layer": [
            {
              "data": {"values": [{}]},
              "mark": {"type": "rect", "fill": "white", "fillOpacity": 0.7, "stroke": "black", "strokeWidth": 1},
              "encoding": {
                "x": {"datum": 1.072, "type": "quantitative", "scale": {"type": "log", "domain": [1.072, 3508], "range": [615.3, 770.3], "nice": false}, "axis": null},
                "x2": {"datum": 3508},
                "y": {"datum": 4.68e-7, "type": "quantitative", "scale": {"type": "log", "domain": [4.68e-7, 1.084], "range": [292, 164], "nice": false}, "axis": null},
                "y2": {"datum": 1.084}
              }
            },
            {
              "data": {"name": "inset"},
              "mark": {"type": "line", "strokeWidth": 1},
              "encoding": {
                "x": {"field": "t", "type": "quantitative", "scale": {"type": "log", "domain": [1.072, 3508], "range": [615.3, 770.3], "nice": false},
                  "axis": {"orient": "bottom", "offset": -215, "domain": false, "grid": false, "ticks": true, "labels": true,
                    "values": [10, 100, 1000],
                    "labelExpr": "'10' + (round(log(datum.value)/LN10) < 0 ? '⁻' : '') + substring('⁰¹²³⁴⁵⁶⁷⁸⁹', abs(round(log(datum.value)/LN10)), abs(round(log(datum.value)/LN10)) + 1)",
                    "labelFlush": false, "labelOverlap": false, "tickColor": "black", "tickWidth": 1, "tickSize": 3.5,
                    "labelColor": "black", "labelFont": "DejaVu Sans", "labelFontSize": 11.5, "labelPadding": 2, "title": null}},
                "y": {"field": "P", "type": "quantitative", "scale": {"type": "log", "domain": [4.68e-7, 1.084], "range": [292, 164], "nice": false},
                  "axis": {"orient": "left", "offset": -615.3, "domain": false, "grid": false, "ticks": true, "labels": true,
                    "values": [1e-5, 0.001, 0.1],
                    "labelExpr": "'10' + (round(log(datum.value)/LN10) < 0 ? '⁻' : '') + substring('⁰¹²³⁴⁵⁶⁷⁸⁹', abs(round(log(datum.value)/LN10)), abs(round(log(datum.value)/LN10)) + 1)",
                    "labelFlush": false, "labelOverlap": false, "tickColor": "black", "tickWidth": 1, "tickSize": 3.5,
                    "labelColor": "black", "labelFont": "DejaVu Sans", "labelFontSize": 11.5, "labelPadding": 2, "title": null}},
                "color": {"field": "group", "type": "nominal", "scale": {"domain": ["t < 5.5", "5.5 < t < 10.3", "10.3 < t < 18.0", "18.0 < t < 32.3", "t > 32.3"], "range": ["#0000ff", "#00ffff", "#bf00bf", "#00ff00", "#008000"]}, "legend": null}
              }
            },
            {
              "data": {"name": "inset"},
              "mark": {"type": "point", "filled": true, "opacity": 1, "size": 11},
              "encoding": {
                "x": {"field": "t", "type": "quantitative", "scale": {"type": "log", "domain": [1.072, 3508], "range": [615.3, 770.3], "nice": false},
                  "axis": {"orient": "bottom", "offset": -215, "domain": false, "grid": false, "labels": false, "title": null, "tickColor": "black", "tickWidth": 1, "tickSize": 2,
                    "values": [2,3,4,5,6,7,8,9,20,30,40,50,60,70,80,90,200,300,400,500,600,700,800,900,2000,3000]}},
                "y": {"field": "P", "type": "quantitative", "scale": {"type": "log", "domain": [4.68e-7, 1.084], "range": [292, 164], "nice": false},
                  "axis": {"orient": "left", "offset": -615.3, "domain": false, "grid": false, "labels": false, "title": null, "tickColor": "black", "tickWidth": 1, "tickSize": 2,
                    "values": [1e-6, 0.0001, 0.01, 1]}},
                "color": {"field": "group", "type": "nominal", "scale": {"domain": ["t < 5.5", "5.5 < t < 10.3", "10.3 < t < 18.0", "18.0 < t < 32.3", "t > 32.3"], "range": ["#0000ff", "#00ffff", "#bf00bf", "#00ff00", "#008000"]}, "legend": null}
              }
            }
          ],
          "resolve": {"axis": {"x": "independent", "y": "independent"}}
        }
      ],
      "resolve": {"scale": {"x": "independent", "y": "independent"}, "axis": {"x": "independent", "y": "independent"}}
    },
    {
      "layer": [
        {
          "data": {"values": [{"text": "Figure 12"}]},
          "mark": {"type": "text", "align": "left", "baseline": "middle", "font": "Roboto", "fontSize": 18.5, "fontWeight": "bold", "color": "#231f20"},
          "encoding": {
            "x": {"datum": 0, "type": "quantitative", "scale": {"type": "linear", "domain": [0, 1], "range": [15, 943], "zero": false, "nice": false}, "axis": null},
            "y": {"datum": 1, "type": "quantitative", "scale": {"type": "linear", "domain": [1, 4], "range": [430, 499], "zero": false, "nice": false}, "axis": null},
            "text": {"field": "text"}
          }
        },
        {
          "data": {"name": "caption"},
          "transform": [{"filter": "datum.line == 1"}],
          "mark": {"type": "text", "align": "left", "baseline": "middle", "font": "Roboto", "fontSize": 18.5, "color": "#231f20", "dx": 86},
          "encoding": {
            "x": {"datum": 0, "type": "quantitative", "scale": {"type": "linear", "domain": [0, 1], "range": [15, 943], "zero": false, "nice": false}, "axis": null},
            "y": {"field": "line", "type": "quantitative", "scale": {"type": "linear", "domain": [1, 4], "range": [430, 499], "zero": false, "nice": false}, "axis": null},
            "text": {"field": "text"}
          }
        },
        {
          "data": {"name": "caption"},
          "transform": [{"filter": "datum.line > 1"}],
          "mark": {"type": "text", "align": "left", "baseline": "middle", "font": "Roboto", "fontSize": 18.5, "color": "#231f20"},
          "encoding": {
            "x": {"datum": 0, "type": "quantitative", "scale": {"type": "linear", "domain": [0, 1], "range": [15, 943], "zero": false, "nice": false}, "axis": null},
            "y": {"field": "line", "type": "quantitative", "scale": {"type": "linear", "domain": [1, 4], "range": [430, 499], "zero": false, "nice": false}, "axis": null},
            "text": {"field": "text"}
          }
        }
      ]
    }
  ],
  "resolve": {"scale": {"x": "independent", "y": "independent", "color": "independent"}, "axis": {"x": "independent", "y": "independent"}}
}
